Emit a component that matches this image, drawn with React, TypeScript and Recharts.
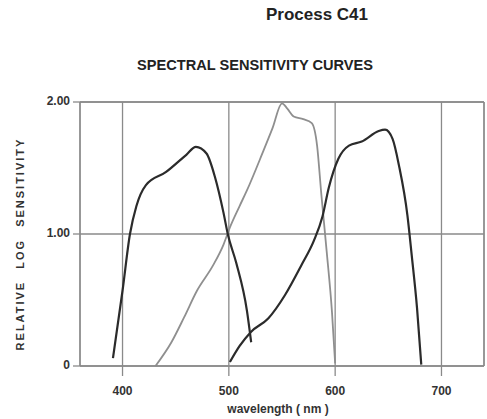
import { LineChart, Line, XAxis, YAxis, CartesianGrid, ReferenceLine } from "recharts";

// wavelength (nm) / relative log sensitivity
const blueNm = [391, 400, 407, 413, 422, 441, 460, 469, 479, 487, 495, 499, 507, 517, 521];
const blueLog = [0.06, 0.57, 1.0, 1.21, 1.37, 1.47, 1.6, 1.66, 1.61, 1.43, 1.16, 1.0, 0.78, 0.42, 0.18];

const greenNm = [431, 446, 458, 470, 485, 495, 501, 510, 517, 532, 541, 550, 555, 561, 570, 578, 583, 587, 592, 597, 600];
const greenLog = [0, 0.18, 0.37, 0.57, 0.76, 0.92, 1.05, 1.21, 1.33, 1.62, 1.8, 1.99, 1.95, 1.89, 1.87, 1.84, 1.67, 1.3, 0.87, 0.41, 0.02];

const redNm = [501, 510, 521, 537, 553, 568, 580, 588, 594, 603, 613, 625, 641, 647, 654, 660, 668, 672, 677, 681];
const redLog = [0.03, 0.15, 0.26, 0.36, 0.54, 0.76, 0.95, 1.13, 1.35, 1.57, 1.67, 1.7, 1.78, 1.79, 1.72, 1.52, 1.14, 0.84, 0.44, 0.01];

const xTicks = [400, 500, 600, 700];
const yTicks = [0, 1, 2];
const yTickLabels = ["0", "1.00", "2.00"];

const toRows = (nm: number[], v: number[]) => nm.map((x, i) => ({ nm: x, v: v[i] }));
const blue = toRows(blueNm, blueLog);
const green = toRows(greenNm, greenLog);
const red = toRows(redNm, redLog);

const FONT = "'Liberation Sans', Arial, sans-serif";
const GRID = "#8a8a8a";
const DARK = "#2b2b2b";

export default function App() {
  return (
    <div style={{ position: "absolute", left: 0, top: 0, width: 487, height: 419, background: "#fff", fontFamily: FONT }}>
      <div style={{ position: "absolute", left: 217, width: 200, top: 5, textAlign: "center", fontSize: 17, fontWeight: 700, color: "#222" }}>
        Process C41
      </div>
      <div style={{ position: "absolute", left: 55, width: 400, top: 57, textAlign: "center", fontSize: 14.6, fontWeight: 700, color: "#222" }}>
        SPECTRAL SENSITIVITY CURVES
      </div>
      <div
        style={{
          position: "absolute",
          left: 20,
          top: 244,
          transform: "translate(-50%, -50%) rotate(-90deg)",
          whiteSpace: "nowrap",
          fontSize: 11,
          fontWeight: 700,
          letterSpacing: 2,
          wordSpacing: 7,
          color: "#333",
        }}
      >
        RELATIVE LOG SENSITIVITY
      </div>
      <div style={{ position: "absolute", left: 178, width: 200, top: 402, textAlign: "center", fontSize: 12, fontWeight: 700, color: "#333" }}>
        wavelength ( nm )
      </div>

      <LineChart width={487} height={419} margin={{ top: 102, right: 3, bottom: 0, left: 0 }}>
        <CartesianGrid stroke={GRID} strokeWidth={1.3} />
        <XAxis
          dataKey="nm"
          type="number"
          domain={[360, 740]}
          ticks={xTicks}
          allowDataOverflow
          height={53}
          tickSize={10}
          tickMargin={10}
          axisLine={{ stroke: GRID, strokeWidth: 1.6 }}
          tickLine={{ stroke: GRID, strokeWidth: 1.3 }}
          tick={{ fontSize: 12, fontWeight: 700, fill: "#333", fontFamily: FONT }}
        />
        <YAxis
          type="number"
          domain={[0, 2]}
          ticks={yTicks}
          width={80}
          tickSize={7}
          tickMargin={3}
          axisLine={{ stroke: GRID, strokeWidth: 1.3 }}
          tickLine={{ stroke: GRID, strokeWidth: 1.3 }}
          tickFormatter={(v) => yTickLabels[yTicks.indexOf(v)]}
          tick={{ fontSize: 12, fontWeight: 700, fill: "#333", fontFamily: FONT, dy: -1 }}
        />
        <ReferenceLine x={740} stroke={GRID} strokeWidth={1.3} />
        <ReferenceLine y={2} stroke={GRID} strokeWidth={1.3} />
        <Line data={green} dataKey="v" type="monotone" stroke="#8f8f8f" strokeWidth={1.8} dot={false} isAnimationActive={false} />
        <Line data={blue} dataKey="v" type="monotone" stroke={DARK} strokeWidth={2.2} dot={false} isAnimationActive={false} />
        <Line data={red} dataKey="v" type="monotone" stroke={DARK} strokeWidth={2.2} dot={false} isAnimationActive={false} />
      </LineChart>
    </div>
  );
}
